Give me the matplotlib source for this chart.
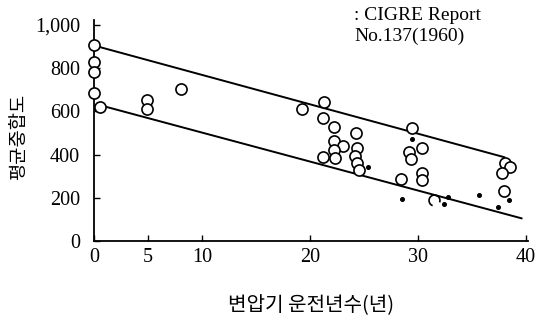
import matplotlib
matplotlib.use("Agg")
import matplotlib.pyplot as plt
from matplotlib.path import Path

# ---- data ----
circle_x = [0, 0, 0, 0, 0.6, 4.9, 4.9, 8.1, 19.3, 21.3, 21.2, 22.25, 24.3, 22.25,
            23.05, 22.2, 21.2, 22.3, 24.4, 24.2, 24.4, 24.5, 29.5, 29.2, 29.4,
            30.4, 30.4, 30.4, 28.4, 38.1, 38.55, 37.8, 38.0]
circle_y = [905, 828, 782, 685, 622, 653, 610, 702, 611, 644, 568, 529, 500, 463,
            438, 421, 390, 384, 429, 394, 360, 327, 522, 413, 381,
            431, 316, 282, 286, 362, 341, 313, 232]
arc_x = [31.5]
arc_y = [188]
dot_x = [25.4, 29.5, 28.5, 32.4, 32.8, 35.7, 37.4, 38.4]
dot_y = [342, 471, 196, 173, 205, 214, 157, 189]

upper_x = [0, 38.0]
upper_y = [905, 388]
lower_x = [0.6, 39.6]
lower_y = [628, 105]

x_ticks = [0, 5, 10, 20, 30, 40]
y_ticks = [0, 200, 400, 600, 800, 1000]
y_tick_labels = ["0", "200", "400", "600", "800", "1,000"]

xlabel = "변압기 운전년수(년)"
ylabel = "평균중합도"
note = ": CIGRE Report\nNo.137(1960)"

# ---- figure ----
serif = ["Liberation Serif", "DejaVu Serif"]
kr = ["Noto Sans CJK KR", "DejaVu Sans"]

fig = plt.figure(figsize=(5.36, 3.2), dpi=100)
ax = fig.add_axes([94 / 536, 79 / 320, 434 / 536, 221 / 320])

ax.plot(upper_x, upper_y, color="black", lw=1.4, zorder=2)
ax.plot(lower_x, lower_y, color="black", lw=1.4, zorder=2)

ax.plot(circle_x, circle_y, linestyle="none", marker="o", markersize=8,
        markerfacecolor="white", markeredgecolor="black", markeredgewidth=1.2,
        clip_on=False, zorder=3)
arc_marker = Path.arc(-20, 250)
ax.plot(arc_x, arc_y, linestyle="none", marker=arc_marker, markersize=8,
        markerfacecolor="none", markeredgecolor="black", markeredgewidth=1.2,
        zorder=3)
ax.plot(dot_x, dot_y, linestyle="none", marker="o", markersize=2.6,
        color="black", zorder=3)

ax.set_xlim(0, 40.2)
ax.set_ylim(0, 1023)
ax.spines["top"].set_visible(False)
ax.spines["right"].set_visible(False)
ax.spines["left"].set_linewidth(1.3)
ax.spines["bottom"].set_linewidth(1.3)

ax.set_xticks(x_ticks)
ax.set_yticks(y_ticks)
ax.set_yticklabels(y_tick_labels)
ax.tick_params(direction="in", length=4, width=1.0, labelsize=14.5)
ax.tick_params(axis="y", pad=10)
ax.tick_params(axis="x", pad=5)
for lab in ax.get_xticklabels() + ax.get_yticklabels():
    lab.set_family(serif)

ax.set_xlabel(xlabel, family=kr, fontsize=14.5, labelpad=20)
ax.set_ylabel(ylabel, family=kr, fontsize=13.5)
ax.yaxis.set_label_coords(-0.15, 0.47)

fig.text(354 / 536, 1 - 7 / 320, note, family=serif, fontsize=14,
         ha="left", va="top", linespacing=1.3)

fig.savefig("out.png", dpi=100)
